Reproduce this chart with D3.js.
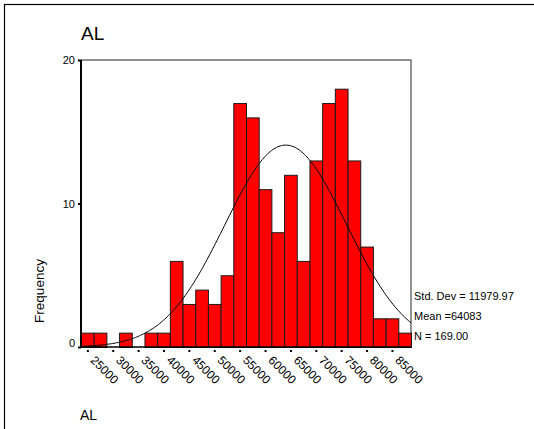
<!DOCTYPE html>
<html><head><meta charset="utf-8">
<script src="https://cdn.jsdelivr.net/npm/d3@7"></script>
<style>
body{margin:0;background:#fff;}
text{font-family:"Liberation Sans",Arial,sans-serif;fill:#000;}
</style></head>
<body><svg id="c" width="534" height="429"></svg>
<script>
// Data
const binStart = 23750;
const binWidth = 2500;
const counts = [1,1,0,1,0,1,1,6,3,4,3,5,17,16,11,8,12,6,13,17,18,13,7,2,2,1];
const xTickValues = [25000,30000,35000,40000,45000,50000,55000,60000,65000,70000,75000,80000,85000];
const yTickValues = [0,10,20];
const stats = {sd: 11979.97, mean: 64083, n: 169};
const statLabels = ["Std. Dev = 11979.97", "Mean =64083", "N = 169.00"];
const title = "AL";
const xLabel = "AL";
const yLabel = "Frequency";

const svg = d3.select("#c");
const L = 81, R = 411, T = 60, B = 347;
const x = d3.scaleLinear().domain([binStart, binStart + binWidth*counts.length]).range([L, R]);
const y = d3.scaleLinear().domain([0, 20]).range([B, T]);

// outer frame
svg.append("rect").attr("x",4.5).attr("y",4.5).attr("width",560).attr("height",460)
  .attr("fill","none").attr("stroke","#000").attr("stroke-width",1.2);

// title
svg.append("text").attr("x",81).attr("y",40).attr("font-size",19).text(title);

// plot border (top/right)
svg.append("path").attr("d",`M${L},${T}H${R}V${B}`).attr("fill","none")
  .attr("stroke","#6e6e6e").attr("stroke-width",1.5);

// bars
const bins = counts.map((c,i)=>({x0: binStart + i*binWidth, x1: binStart+(i+1)*binWidth, c}));
svg.append("g").selectAll("rect").data(bins.filter(d=>d.c>0)).join("rect")
  .attr("x", d=>x(d.x0)+0.5).attr("width", d=>x(d.x1)-x(d.x0))
  .attr("y", d=>y(d.c)+0.5).attr("height", d=>y(0)-y(d.c))
  .attr("fill","#ff0000").attr("stroke","#1a1a1a").attr("stroke-width",1);

// normal curve
const k = stats.n*binWidth/(stats.sd*Math.sqrt(2*Math.PI));
const pts = d3.range(binStart, binStart+binWidth*counts.length+1, 250)
  .map(v=>[v, k*Math.exp(-0.5*Math.pow((v-stats.mean)/stats.sd,2))]);
svg.append("path").datum(pts)
  .attr("d", d3.line().x(d=>x(d[0])).y(d=>y(d[1])))
  .attr("fill","none").attr("stroke","#000").attr("stroke-width",1);

// axes lines
svg.append("line").attr("x1",L).attr("x2",L).attr("y1",T).attr("y2",B)
  .attr("stroke","#000").attr("stroke-width",2);
svg.append("line").attr("x1",L).attr("x2",R).attr("y1",B).attr("y2",B)
  .attr("stroke","#000").attr("stroke-width",1.5);

// y axis
const yAxis = d3.axisLeft(y).tickValues(yTickValues).tickSize(3).tickPadding(3);
const gy = svg.append("g").attr("transform",`translate(${L},0)`).call(yAxis);
gy.select(".domain").remove();
gy.selectAll(".tick line").attr("stroke","#000").attr("stroke-width",2);
gy.selectAll(".tick text").attr("font-size",11).attr("font-family","Liberation Sans, Arial, sans-serif")
  .attr("dy", d=> d===0 ? "-0.05em" : "0.32em");

// x axis
const xAxis = d3.axisBottom(x).tickValues(xTickValues).tickSize(0).tickPadding(0).tickFormat(d3.format("d"));
const gx = svg.append("g").attr("transform",`translate(0,${B})`).call(xAxis);
gx.select(".domain").remove();
gx.selectAll(".tick").append("rect").attr("x",-1).attr("y",3).attr("width",2).attr("height",2).attr("fill","#000");
gx.selectAll(".tick text").attr("font-size",12).attr("font-family","Liberation Sans, Arial, sans-serif")
  .attr("text-anchor","start").attr("dy",null).attr("y",null)
  .attr("transform","translate(2,14) rotate(45)");

// stats
svg.append("g").selectAll("text").data(statLabels).join("text")
  .attr("x",414).attr("y",(d,i)=>300+i*20).attr("font-size",11).text(d=>d);

// axis titles
svg.append("text").attr("transform","translate(44,291) rotate(-90)").attr("text-anchor","middle")
  .attr("font-size",13.5).text(yLabel);
svg.append("text").attr("x",80).attr("y",420).attr("font-size",14).text(xLabel);
</script></body></html>
